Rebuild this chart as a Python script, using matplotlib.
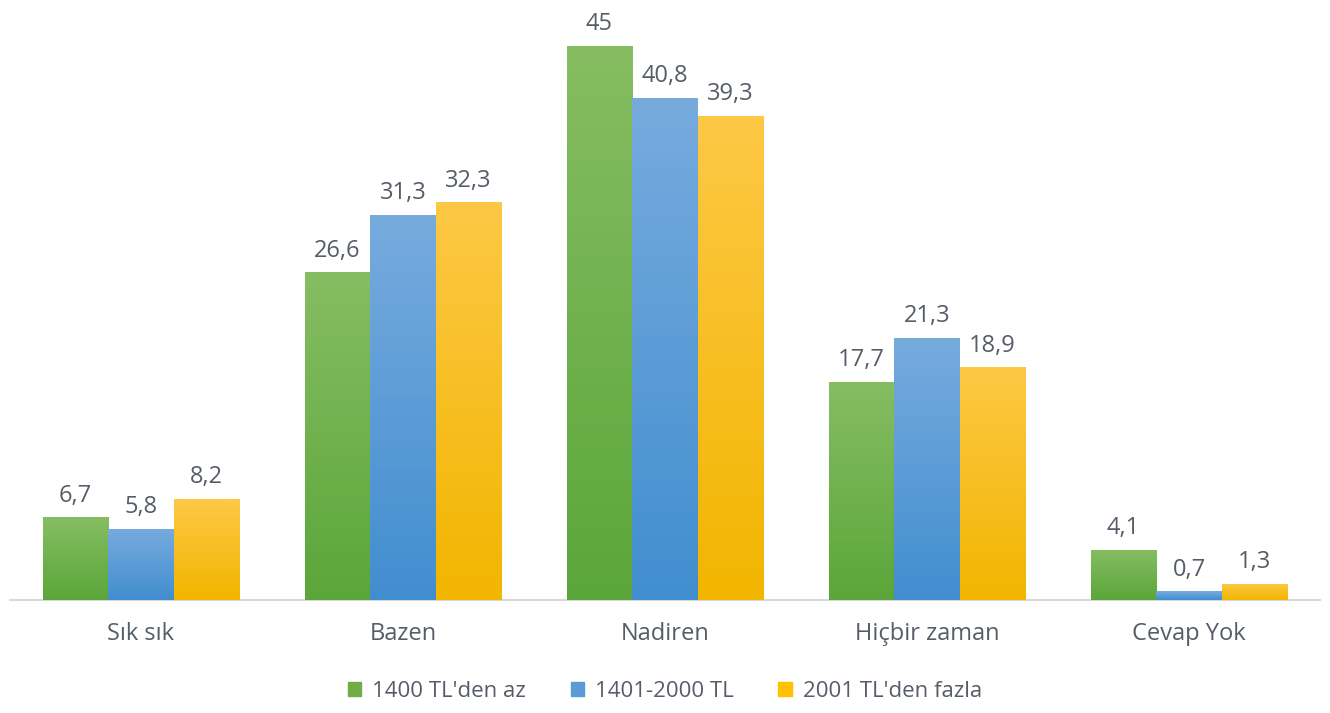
import numpy as np
import matplotlib
matplotlib.use("Agg")
import matplotlib.pyplot as plt
from matplotlib.colors import LinearSegmentedColormap

categories = ["Sık sık", "Bazen", "Nadiren", "Hiçbir zaman", "Cevap Yok"]
series_names = ["1400 TL'den az", "1401-2000 TL", "2001 TL'den fazla"]
low_income = [6.7, 26.6, 45, 17.7, 4.1]
mid_income = [5.8, 31.3, 40.8, 21.3, 0.7]
high_income = [8.2, 32.3, 39.3, 18.9, 1.3]

series = [low_income, mid_income, high_income]
# (top colour, bottom colour, legend colour)
colors = [("#86bd62", "#5ba63a", "#70ad47"),
          ("#77abde", "#418ecf", "#5b9bd5"),
          ("#fdc845", "#f2b500", "#ffc000")]

plt.rcParams['font.family'] = ['Open Sans', 'DejaVu Sans']

fig = plt.figure(figsize=(13.30, 7.13), dpi=100)
ax = fig.add_axes([0.0075, 0.1585, 0.985, 0.829])

x = np.arange(len(categories))
w = 0.25
text_color = "#565c68"

for i, (vals, (ctop, cbot, cleg)) in enumerate(zip(series, colors)):
    bars = ax.bar(x + (i - 1) * w, vals, w, color=cleg, label=series_names[i], zorder=2)
    cmap = LinearSegmentedColormap.from_list("g%d" % i, [cbot, ctop])
    for b, v in zip(bars, vals):
        x0 = b.get_x()
        grad = np.linspace(0, 1, 100).reshape(-1, 1)
        im = ax.imshow(grad, cmap=cmap, origin="lower", aspect="auto",
                       extent=[x0, x0 + b.get_width(), 0, v], zorder=3)
        im.set_clip_path(b)
        label = ("%g" % v).replace(".", ",")
        ax.annotate(label, (x0 + b.get_width() / 2, v), xytext=(0, 7),
                    textcoords="offset points", ha="center", va="bottom",
                    fontsize=17, color=text_color)

ax.set_xlim(-0.5, 4.5)
ax.set_ylim(0, 48)
ax.set_xticks(x)
ax.set_xticklabels(categories, fontsize=17, color=text_color)
ax.tick_params(axis="x", length=0, pad=16)
ax.set_yticks([])
for s in ["top", "right", "left"]:
    ax.spines[s].set_visible(False)
ax.spines["bottom"].set_color("#d9d9d9")
ax.spines["bottom"].set_linewidth(1.5)

handles = [plt.Rectangle((0, 0), 1, 1, color=c[2]) for c in colors]
leg = fig.legend(handles, series_names, loc="center", bbox_to_anchor=(0.5, 0.03),
                 ncol=3, frameon=False, fontsize=16, handlelength=0.6,
                 handleheight=0.6, handletextpad=0.5, columnspacing=2.0)
for t in leg.get_texts():
    t.set_color(text_color)

fig.savefig("out.png", dpi=100)
